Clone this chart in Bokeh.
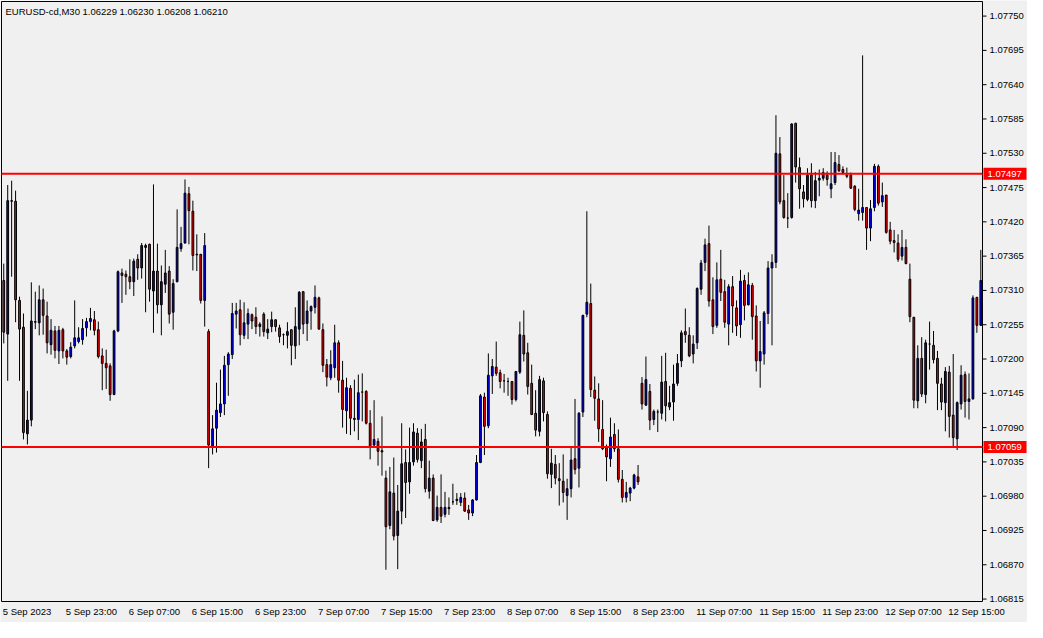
from bokeh.plotting import figure
from bokeh.models import Range1d, ColumnDataSource
from bokeh.core.properties import value
from bokeh.embed import file_html
from bokeh.resources import INLINE

chart_title = "EURUSD-cd,M30  1.06229 1.06230 1.06208 1.06210"

opens = [1.07326, 1.07240, 1.07454, 1.07453, 1.07294, 1.07251, 1.07080, 1.07102, 1.07260, 1.07258,
         1.07295, 1.07269, 1.07223, 1.07245, 1.07213, 1.07247, 1.07213, 1.07204, 1.07221, 1.07228,
         1.07231, 1.07250, 1.07260, 1.07263, 1.07247, 1.07205, 1.07193, 1.07189, 1.07143, 1.07245,
         1.07338, 1.07336, 1.07332, 1.07324, 1.07360, 1.07346, 1.07379, 1.07384, 1.07309, 1.07341,
         1.07287, 1.07320, 1.07341, 1.07275, 1.07324, 1.07377, 1.07386, 1.07465, 1.07437, 1.07368,
         1.07368, 1.07294, 1.07244, 1.07060, 1.07089, 1.07114, 1.07128, 1.07191, 1.07207, 1.07272,
         1.07279, 1.07238, 1.07256, 1.07271, 1.07267, 1.07252, 1.07272, 1.07242, 1.07252, 1.07263,
         1.07250, 1.07239, 1.07238, 1.07247, 1.07221, 1.07248, 1.07308, 1.07257, 1.07277, 1.07283,
         1.07298, 1.07247, 1.07191, 1.07170, 1.07186, 1.07226, 1.07166, 1.07117, 1.07153, 1.07105,
         1.07103, 1.07147, 1.07148, 1.07097, 1.07062, 1.07068, 1.07053, 1.07009, 1.06933, 1.06985,
         1.06917, 1.06956, 1.07034, 1.07003, 1.07035, 1.07081, 1.07037, 1.07071, 1.06988, 1.07009,
         1.06942, 1.06962, 1.06951, 1.06962, 1.06971, 1.06973, 1.06970, 1.06977, 1.06958, 1.06953,
         1.06974, 1.07034, 1.07139, 1.07093, 1.07173, 1.07187, 1.07178, 1.07165, 1.07164, 1.07164,
         1.07135, 1.07179, 1.07238, 1.07210, 1.07161, 1.07113, 1.07084, 1.07165, 1.07111, 1.07015,
         1.07031, 1.07008, 1.07004, 1.06981, 1.06992, 1.07040, 1.07025, 1.07115, 1.07272, 1.07289,
         1.07150, 1.07136, 1.07087, 1.07058, 1.07040, 1.07079, 1.07056, 1.07007, 1.06978, 1.06985,
         1.06993, 1.07011, 1.07161, 1.07126, 1.07148, 1.07103, 1.07115, 1.07113, 1.07164, 1.07123,
         1.07131, 1.07161, 1.07197, 1.07244, 1.07238, 1.07208, 1.07226, 1.07312, 1.07355, 1.07385,
         1.07295, 1.07254, 1.07328, 1.07308, 1.07256, 1.07316, 1.07282, 1.07255, 1.07326, 1.07287,
         1.07318, 1.07269, 1.07197, 1.07208, 1.07273, 1.07346, 1.07355, 1.07529, 1.07454, 1.07426,
         1.07427, 1.07578, 1.07507, 1.07468, 1.07456, 1.07495, 1.07454, 1.07487, 1.07490, 1.07495,
         1.07473, 1.07483, 1.07512, 1.07504, 1.07495, 1.07495, 1.07477, 1.07433, 1.07435, 1.07443,
         1.07410, 1.07443, 1.07509, 1.07452, 1.07463, 1.07407, 1.07390, 1.07386, 1.07365, 1.07379,
         1.07328, 1.07267, 1.07133, 1.07201, 1.07143, 1.07224, 1.07222, 1.07201, 1.07160, 1.07130,
         1.07179, 1.07110, 1.07072, 1.07128, 1.07175, 1.07132, 1.07136, 1.07299, 1.07254]

highs = [1.07353, 1.07479, 1.07486, 1.07470, 1.07300, 1.07273, 1.07149, 1.07323, 1.07308, 1.07318,
         1.07313, 1.07292, 1.07264, 1.07253, 1.07253, 1.07250, 1.07216, 1.07227, 1.07294, 1.07251,
         1.07264, 1.07266, 1.07282, 1.07277, 1.07260, 1.07217, 1.07215, 1.07193, 1.07247, 1.07342,
         1.07345, 1.07342, 1.07360, 1.07361, 1.07368, 1.07386, 1.07385, 1.07385, 1.07480, 1.07385,
         1.07350, 1.07375, 1.07349, 1.07328, 1.07440, 1.07412, 1.07488, 1.07476, 1.07454, 1.07400,
         1.07368, 1.07402, 1.07248, 1.07110, 1.07162, 1.07183, 1.07205, 1.07211, 1.07290, 1.07290,
         1.07295, 1.07291, 1.07281, 1.07273, 1.07283, 1.07259, 1.07275, 1.07264, 1.07276, 1.07263,
         1.07255, 1.07241, 1.07259, 1.07247, 1.07283, 1.07309, 1.07309, 1.07294, 1.07286, 1.07318,
         1.07300, 1.07257, 1.07200, 1.07214, 1.07255, 1.07230, 1.07197, 1.07170, 1.07158, 1.07167,
         1.07175, 1.07177, 1.07150, 1.07118, 1.07134, 1.07073, 1.07108, 1.07021, 1.07027, 1.07042,
         1.06998, 1.07097, 1.07055, 1.07090, 1.07097, 1.07089, 1.07088, 1.07096, 1.07037, 1.07015,
         1.06981, 1.07015, 1.06987, 1.06978, 1.07000, 1.06985, 1.06985, 1.06986, 1.06966, 1.06975,
         1.07046, 1.07144, 1.07146, 1.07209, 1.07200, 1.07228, 1.07183, 1.07176, 1.07170, 1.07164,
         1.07180, 1.07260, 1.07278, 1.07226, 1.07191, 1.07150, 1.07173, 1.07170, 1.07116, 1.07056,
         1.07046, 1.07033, 1.07047, 1.07008, 1.07059, 1.07136, 1.07115, 1.07271, 1.07437, 1.07321,
         1.07172, 1.07161, 1.07134, 1.07063, 1.07106, 1.07097, 1.07087, 1.07022, 1.07003, 1.06995,
         1.07016, 1.07030, 1.07171, 1.07204, 1.07160, 1.07119, 1.07119, 1.07205, 1.07210, 1.07157,
         1.07191, 1.07208, 1.07246, 1.07281, 1.07251, 1.07238, 1.07315, 1.07359, 1.07393, 1.07414,
         1.07331, 1.07355, 1.07375, 1.07327, 1.07320, 1.07333, 1.07294, 1.07343, 1.07335, 1.07339,
         1.07322, 1.07286, 1.07261, 1.07277, 1.07357, 1.07368, 1.07591, 1.07556, 1.07495, 1.07466,
         1.07578, 1.07579, 1.07523, 1.07479, 1.07506, 1.07514, 1.07500, 1.07504, 1.07506, 1.07501,
         1.07532, 1.07532, 1.07527, 1.07509, 1.07507, 1.07499, 1.07479, 1.07473, 1.07687, 1.07443,
         1.07455, 1.07513, 1.07512, 1.07483, 1.07463, 1.07420, 1.07407, 1.07400, 1.07407, 1.07392,
         1.07353, 1.07267, 1.07222, 1.07235, 1.07231, 1.07260, 1.07245, 1.07213, 1.07170, 1.07187,
         1.07189, 1.07208, 1.07132, 1.07190, 1.07180, 1.07177, 1.07302, 1.07299, 1.07375]

lows = [1.07225, 1.07165, 1.07332, 1.07259, 1.07165, 1.07071, 1.07063, 1.07092, 1.07248, 1.07238,
        1.07239, 1.07209, 1.07207, 1.07201, 1.07192, 1.07201, 1.07191, 1.07201, 1.07217, 1.07225,
        1.07223, 1.07236, 1.07246, 1.07238, 1.07201, 1.07150, 1.07152, 1.07133, 1.07142, 1.07243,
        1.07290, 1.07303, 1.07312, 1.07301, 1.07327, 1.07329, 1.07275, 1.07292, 1.07242, 1.07273,
        1.07238, 1.07306, 1.07257, 1.07247, 1.07323, 1.07372, 1.07385, 1.07384, 1.07342, 1.07341,
        1.07289, 1.07252, 1.07025, 1.07047, 1.07050, 1.07107, 1.07110, 1.07141, 1.07200, 1.07249,
        1.07222, 1.07232, 1.07232, 1.07248, 1.07240, 1.07236, 1.07236, 1.07232, 1.07243, 1.07244,
        1.07226, 1.07222, 1.07217, 1.07190, 1.07200, 1.07222, 1.07240, 1.07229, 1.07247, 1.07273,
        1.07247, 1.07179, 1.07156, 1.07166, 1.07170, 1.07146, 1.07090, 1.07080, 1.07078, 1.07084,
        1.07070, 1.07100, 1.07095, 1.07039, 1.07060, 1.07029, 1.07013, 1.06862, 1.06927, 1.06909,
        1.06863, 1.06935, 1.06945, 1.06984, 1.07029, 1.07034, 1.07025, 1.06986, 1.06976, 1.06940,
        1.06939, 1.06937, 1.06946, 1.06950, 1.06966, 1.06966, 1.06964, 1.06955, 1.06942, 1.06948,
        1.06973, 1.07033, 1.07046, 1.07089, 1.07144, 1.07173, 1.07153, 1.07146, 1.07141, 1.07127,
        1.07132, 1.07176, 1.07196, 1.07143, 1.07110, 1.07076, 1.07076, 1.07100, 1.07008, 1.06993,
        1.06999, 1.06965, 1.06970, 1.06942, 1.06978, 1.07015, 1.06994, 1.07107, 1.07267, 1.07139,
        1.07101, 1.07067, 1.07054, 1.07004, 1.07027, 1.07051, 1.07002, 1.06970, 1.06970, 1.06972,
        1.06991, 1.06998, 1.07119, 1.07125, 1.07086, 1.07094, 1.07083, 1.07103, 1.07100, 1.07118,
        1.07101, 1.07157, 1.07187, 1.07226, 1.07203, 1.07193, 1.07216, 1.07303, 1.07341, 1.07284,
        1.07240, 1.07250, 1.07293, 1.07250, 1.07222, 1.07242, 1.07237, 1.07234, 1.07262, 1.07286,
        1.07231, 1.07180, 1.07154, 1.07191, 1.07256, 1.07222, 1.07346, 1.07448, 1.07425, 1.07410,
        1.07425, 1.07483, 1.07441, 1.07443, 1.07453, 1.07443, 1.07442, 1.07461, 1.07486, 1.07478,
        1.07458, 1.07479, 1.07500, 1.07496, 1.07490, 1.07473, 1.07437, 1.07422, 1.07422, 1.07375,
        1.07389, 1.07437, 1.07446, 1.07444, 1.07401, 1.07384, 1.07371, 1.07356, 1.07358, 1.07352,
        1.07259, 1.07121, 1.07121, 1.07139, 1.07129, 1.07183, 1.07193, 1.07118, 1.07118, 1.07084,
        1.07074, 1.07058, 1.07054, 1.07119, 1.07106, 1.07103, 1.07135, 1.07242, 1.07253]

closes = [1.07243, 1.07454, 1.07453, 1.07295, 1.07248, 1.07082, 1.07102, 1.07261, 1.07259, 1.07295,
          1.07270, 1.07226, 1.07246, 1.07214, 1.07246, 1.07213, 1.07203, 1.07219, 1.07234, 1.07234,
          1.07249, 1.07260, 1.07265, 1.07246, 1.07204, 1.07193, 1.07186, 1.07143, 1.07245, 1.07340,
          1.07334, 1.07332, 1.07324, 1.07357, 1.07346, 1.07382, 1.07382, 1.07312, 1.07341, 1.07287,
          1.07324, 1.07338, 1.07272, 1.07321, 1.07379, 1.07385, 1.07466, 1.07438, 1.07366, 1.07367,
          1.07294, 1.07382, 1.07062, 1.07088, 1.07118, 1.07128, 1.07190, 1.07208, 1.07273, 1.07277,
          1.07239, 1.07258, 1.07273, 1.07261, 1.07252, 1.07256, 1.07244, 1.07248, 1.07263, 1.07252,
          1.07236, 1.07239, 1.07244, 1.07222, 1.07252, 1.07307, 1.07256, 1.07277, 1.07284, 1.07299,
          1.07248, 1.07190, 1.07171, 1.07191, 1.07226, 1.07166, 1.07119, 1.07154, 1.07105, 1.07103,
          1.07146, 1.07147, 1.07097, 1.07060, 1.07071, 1.07052, 1.07051, 1.06931, 1.06987, 1.06916,
          1.06956, 1.07032, 1.07002, 1.07034, 1.07083, 1.07039, 1.07067, 1.06992, 1.07009, 1.06941,
          1.06962, 1.06948, 1.06962, 1.06960, 1.06971, 1.06975, 1.06978, 1.06956, 1.06953, 1.06974,
          1.07034, 1.07141, 1.07092, 1.07174, 1.07188, 1.07177, 1.07164, 1.07165, 1.07164, 1.07135,
          1.07180, 1.07239, 1.07208, 1.07156, 1.07111, 1.07086, 1.07167, 1.07114, 1.07016, 1.07033,
          1.07009, 1.07005, 1.06986, 1.06992, 1.07038, 1.07023, 1.07113, 1.07270, 1.07291, 1.07151,
          1.07137, 1.07088, 1.07056, 1.07043, 1.07075, 1.07056, 1.07007, 1.06978, 1.06986, 1.06993,
          1.07014, 1.07003, 1.07128, 1.07167, 1.07102, 1.07116, 1.07115, 1.07163, 1.07125, 1.07130,
          1.07160, 1.07193, 1.07242, 1.07239, 1.07205, 1.07224, 1.07313, 1.07354, 1.07383, 1.07293,
          1.07252, 1.07327, 1.07307, 1.07259, 1.07316, 1.07285, 1.07253, 1.07325, 1.07286, 1.07319,
          1.07268, 1.07197, 1.07212, 1.07274, 1.07346, 1.07355, 1.07530, 1.07452, 1.07427, 1.07426,
          1.07577, 1.07508, 1.07473, 1.07457, 1.07495, 1.07454, 1.07486, 1.07490, 1.07499, 1.07488,
          1.07481, 1.07515, 1.07502, 1.07499, 1.07493, 1.07474, 1.07440, 1.07439, 1.07443, 1.07410,
          1.07441, 1.07509, 1.07450, 1.07462, 1.07403, 1.07389, 1.07387, 1.07360, 1.07379, 1.07353,
          1.07268, 1.07134, 1.07201, 1.07144, 1.07226, 1.07224, 1.07199, 1.07161, 1.07131, 1.07180,
          1.07108, 1.07074, 1.07130, 1.07174, 1.07132, 1.07136, 1.07298, 1.07254, 1.07326]

time_labels = ["5 Sep 2023", "5 Sep 23:00", "6 Sep 07:00", "6 Sep 15:00", "6 Sep 23:00",
               "7 Sep 07:00", "7 Sep 15:00", "7 Sep 23:00", "8 Sep 07:00", "8 Sep 15:00",
               "8 Sep 23:00", "11 Sep 07:00", "11 Sep 15:00", "11 Sep 23:00", "12 Sep 07:00",
               "12 Sep 15:00"]
time_label_bars = [0, 16, 32, 48, 64, 80, 96, 112, 128, 144, 160, 176, 192, 208, 224, 240]

price_ticks = [1.07750, 1.07695, 1.07640, 1.07585, 1.07530, 1.07475, 1.07420, 1.07365, 1.07310,
               1.07255, 1.07200, 1.07145, 1.07090, 1.07035, 1.06980, 1.06925, 1.06870, 1.06815]

level_prices = [1.07497, 1.07059]

# ---------------- layout (pixels) ----------------
W, H = 1027, 622
CH_L, CH_R, CH_T, CH_B = 1, 982, 1, 601          # chart box in canvas pixels
BAR_LEFT, BAR_RIGHT = -0.575, 248.43              # bar index at chart left/right edge
PRICE_TOP, PRICE_BOTTOM = 1.077734, 1.068111      # price at chart top/bottom edge
BG = "#F0F0F0"
FONT = "Liberation Sans"
FS = "9.5px"

ppb = (CH_R - CH_L) / (BAR_RIGHT - BAR_LEFT)      # pixels per bar
ppp = (CH_B - CH_T) / (PRICE_TOP - PRICE_BOTTOM)  # pixels per price unit


def dx(px):
    return px / ppb


def dy(px):
    return px / ppp


x_range = Range1d(BAR_LEFT - dx(CH_L), BAR_RIGHT + dx(W - CH_R))
y_range = Range1d(PRICE_BOTTOM - dy(H - CH_B), PRICE_TOP + dy(CH_T))

n = len(opens)
idx = list(range(n))
tops = [max(o, c) for o, c in zip(opens, closes)]
bottoms = [min(o, c) for o, c in zip(opens, closes)]
colors = ["#0000FF" if c > o else "#FF0000" for o, c in zip(opens, closes)]

p = figure(width=W, height=H, x_range=x_range, y_range=y_range,
           x_axis_location=None, y_axis_location=None,
           toolbar_location=None, output_backend="svg",
           background_fill_color=BG, border_fill_color=BG, min_border=0)
p.grid.visible = False
p.outline_line_color = None

# chart frame
p.segment(x0=[BAR_LEFT, BAR_LEFT, BAR_LEFT, BAR_RIGHT],
          y0=[PRICE_TOP, PRICE_BOTTOM, PRICE_BOTTOM, PRICE_BOTTOM],
          x1=[BAR_RIGHT, BAR_RIGHT, BAR_LEFT, BAR_RIGHT],
          y1=[PRICE_TOP, PRICE_BOTTOM, PRICE_TOP, PRICE_TOP],
          line_color="black", line_width=1)

# candles
src = ColumnDataSource(dict(x=idx, o=opens, h=highs, l=lows, c=closes, top=tops, bottom=bottoms, color=colors))
p.segment(x0="x", y0="l", x1="x", y1="h", source=src, line_color="black", line_width=1)
p.vbar(x="x", width=0.45, top="top", bottom="bottom", source=src,
       fill_color="color", line_color="black", line_width=1)

# horizontal levels
p.segment(x0=[BAR_LEFT] * len(level_prices), x1=[BAR_RIGHT] * len(level_prices),
          y0=level_prices, y1=level_prices, line_color="#FF0000", line_width=2)

# price scale (right)
p.segment(x0=[BAR_RIGHT] * len(price_ticks), x1=[BAR_RIGHT + dx(4)] * len(price_ticks),
          y0=price_ticks, y1=price_ticks, line_color="black", line_width=1)
p.text(x=[BAR_RIGHT + dx(7)] * len(price_ticks), y=price_ticks,
       text=[f"{v:.5f}" for v in price_ticks],
       text_font=value(FONT), text_font_size=value(FS), text_color="black",
       text_align="left", text_baseline="middle")

# level price tags
p.quad(left=[BAR_RIGHT + dx(1)] * len(level_prices), right=[BAR_RIGHT + dx(44)] * len(level_prices),
       top=[v + dy(6) for v in level_prices], bottom=[v - dy(6) for v in level_prices],
       fill_color="#FF0000", line_color=None)
p.text(x=[BAR_RIGHT + dx(5)] * len(level_prices), y=level_prices,
       text=[f"{v:.5f}" for v in level_prices],
       text_font=value(FONT), text_font_size=value(FS), text_color="white",
       text_align="left", text_baseline="middle")

# time scale (bottom)
p.text(x=[b - dx(1) for b in time_label_bars], y=[PRICE_BOTTOM - dy(4)] * len(time_label_bars),
       text=time_labels, text_font=value(FONT), text_font_size=value(FS), text_color="black",
       text_align="left", text_baseline="top")

# title
p.text(x=[BAR_LEFT + dx(4)], y=[PRICE_TOP - dy(10)], text=[chart_title],
       text_font=value(FONT), text_font_size=value(FS), text_color="black",
       text_align="left", text_baseline="middle")

open("out.html", "w").write(file_html(p, INLINE))
